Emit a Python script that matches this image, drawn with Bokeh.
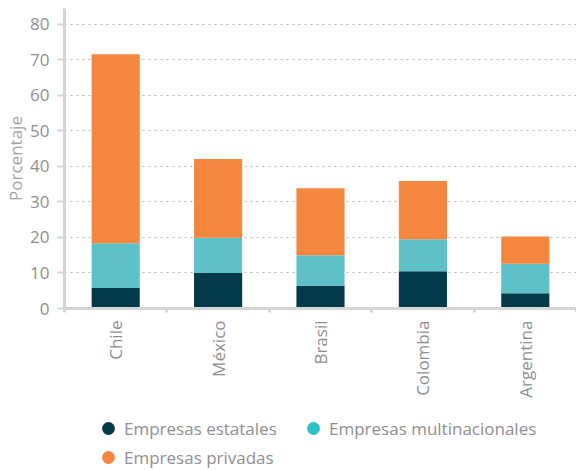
from bokeh.plotting import figure
from bokeh.models import ColumnDataSource, FixedTicker, Legend, LegendItem, Range1d
from bokeh.layouts import column
from bokeh.embed import file_html
from bokeh.resources import INLINE
import math

countries = ["Chile", "México", "Brasil", "Colombia", "Argentina"]
estatales = [5.8, 10.0, 6.4, 10.5, 4.3]
multinacionales = [12.6, 9.9, 8.6, 9.0, 8.3]
privadas = [53.2, 22.2, 18.9, 16.4, 7.7]
series_names = ["Empresas estatales", "Empresas multinacionales", "Empresas privadas"]
bar_colors = ["#033a4b", "#5ec0c8", "#f4863f"]
legend_colors = ["#033a4b", "#2ebfc8", "#f4863f"]
y_ticks = [0, 10, 20, 30, 40, 50, 60, 70, 80]

FONT = "Open Sans"
GREY = "#8f8f8f"
AXIS = "#d3d6d5"

xs = [i + 0.5 for i in range(len(countries))]
source = ColumnDataSource(dict(x=xs, estatales=estatales,
                               multinacionales=multinacionales, privadas=privadas))

p = figure(frame_width=512, frame_height=300, output_backend="svg", toolbar_location=None,
           x_range=Range1d(0, len(countries)), y_range=Range1d(0, 84.5),
           min_border_left=64, min_border_right=0, min_border_top=8, min_border_bottom=100)
p.outline_line_color = None
p.background_fill_color = "white"
p.border_fill_color = "white"

p.vbar_stack(["estatales", "multinacionales", "privadas"], x="x", width=0.47,
             color=bar_colors, line_color=None, source=source)

# x axis
p.xaxis.ticker = FixedTicker(ticks=xs, minor_ticks=list(range(0, len(countries) + 1)))
p.xaxis.major_label_overrides = {x: c for x, c in zip(xs, countries)}
p.xaxis.major_label_orientation = math.pi / 2
p.xaxis.major_tick_line_color = None
p.xaxis.major_tick_out = 4
p.xaxis.major_tick_in = 0
p.xaxis.minor_tick_line_color = AXIS
p.xaxis.minor_tick_line_width = 3
p.xaxis.minor_tick_out = 4
p.xaxis.minor_tick_in = 0
p.xaxis.axis_line_color = AXIS
p.xaxis.axis_line_width = 3
p.xaxis.major_label_text_font = FONT
p.xaxis.major_label_text_font_size = "17px"
p.xaxis.major_label_text_color = GREY
p.xaxis.major_label_standoff = 8

# y axis
p.yaxis.ticker = FixedTicker(ticks=y_ticks)
p.yaxis.minor_tick_line_color = None
p.yaxis.major_tick_line_color = AXIS
p.yaxis.major_tick_line_width = 2
p.yaxis.major_tick_out = 7
p.yaxis.major_tick_in = 0
p.yaxis.axis_line_color = AXIS
p.yaxis.axis_line_width = 3
p.yaxis.major_label_text_font = FONT
p.yaxis.major_label_text_font_size = "17px"
p.yaxis.major_label_text_color = GREY
p.yaxis.major_label_standoff = 8
p.yaxis.axis_label = "Porcentaje"
p.yaxis.axis_label_text_font = FONT
p.yaxis.axis_label_text_font_size = "17px"
p.yaxis.axis_label_text_font_style = "normal"
p.yaxis.axis_label_text_color = "#a3a3a3"
p.yaxis.axis_label_standoff = 0

p.xgrid.grid_line_color = None
p.ygrid.grid_line_color = "#b8b8b8"
p.ygrid.grid_line_dash = "2 4"
p.ygrid.grid_line_width = 1

# legend figure (frame aligned with the chart frame by the column layout)
lf = figure(width=576, height=62, output_backend="svg", toolbar_location=None,
            x_range=Range1d(0, 1), y_range=Range1d(0, 1),
            min_border_left=0, min_border_right=0, min_border_top=0, min_border_bottom=0)
lf.axis.visible = False
lf.grid.visible = False
lf.outline_line_color = None

legend_items = []
for name, col in zip(series_names, legend_colors):
    r = lf.scatter(x=[float("nan")], y=[float("nan")], size=13, marker="circle",
                   fill_color=col, line_color=None)
    legend_items.append(LegendItem(label=name, renderers=[r]))

common = dict(label_text_font=FONT, label_text_font_size="17px", label_text_color=GREY,
              glyph_width=32, glyph_height=32, label_standoff=-5, spacing=0,
              padding=0, margin=0, border_line_color=None, background_fill_alpha=0,
              label_height=20)
legend_locations = [(28, 26), (233, 26), (28, -3)]
for item, loc in zip(legend_items, legend_locations):
    lf.add_layout(Legend(items=[item], location=loc, **common), "center")

layout = column(p, lf, spacing=0)
open("out.html", "w").write(file_html(layout, INLINE))
